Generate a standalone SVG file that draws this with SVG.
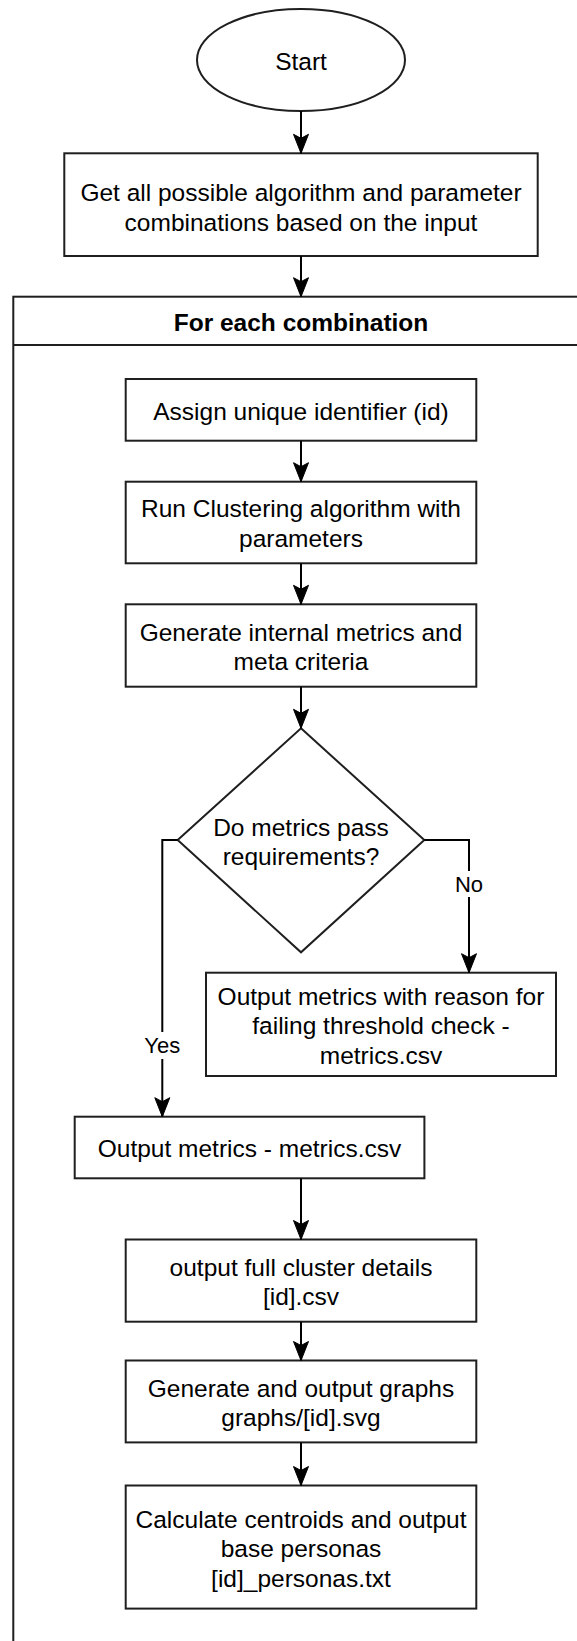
<svg xmlns="http://www.w3.org/2000/svg" width="577" height="1641" viewBox="0 0 577 1641">
  <style>
    .shape { fill: #ffffff; stroke: #1f1f1f; stroke-width: 2; }
    .t { font-family: "Liberation Sans", Arial, Helvetica, sans-serif; font-size: 24.5px; fill: #000; text-anchor: middle; }
    .b { font-weight: bold; }
    .lbl { font-family: "Liberation Sans", Arial, Helvetica, sans-serif; font-size: 22px; fill: #000; text-anchor: middle; }
    .edge { fill: none; stroke: #000; stroke-width: 2; }
  </style>
  <defs>
    <marker id="arrow" markerUnits="userSpaceOnUse" markerWidth="24" markerHeight="20" viewBox="-21 -10 22 20" refX="0" refY="0" orient="auto">
      <path d="M0,0 L-19,-7.5 L-15,0 L-19,7.5 Z" fill="#000" stroke="#000" stroke-width="1"/>
    </marker>
  </defs>
  <rect x="0" y="0" width="577" height="1641" fill="#ffffff"/>

  <g id="loop-frame">
    <rect class="shape" x="13.3" y="296.7" width="620" height="1420"/>
    <line x1="13.3" y1="345" x2="633" y2="345" stroke="#1f1f1f" stroke-width="2"/>
    <text class="t b" x="301" y="330.5">For each combination</text>
  </g>

  <g id="start">
    <ellipse class="shape" cx="301" cy="60" rx="104" ry="51"/>
    <text class="t" x="301" y="70">Start</text>
  </g>

  <g id="get-combinations">
    <rect class="shape" x="64.3" y="153.3" width="473.4" height="102.7"/>
    <text class="t" x="301" y="200.5">Get all possible algorithm and parameter</text>
    <text class="t" x="301" y="231">combinations based on the input</text>
  </g>

  <g id="assign-id">
    <rect class="shape" x="125.7" y="379" width="350.6" height="61.7"/>
    <text class="t" x="301" y="419.5">Assign unique identifier (id)</text>
  </g>

  <g id="run-clustering">
    <rect class="shape" x="125.7" y="481.7" width="350.6" height="81.6"/>
    <text class="t" x="301" y="517">Run Clustering algorithm with</text>
    <text class="t" x="301" y="546.5">parameters</text>
  </g>

  <g id="generate-metrics">
    <rect class="shape" x="125.7" y="604.3" width="350.6" height="82.4"/>
    <text class="t" x="301" y="640.5">Generate internal metrics and</text>
    <text class="t" x="301" y="670">meta criteria</text>
  </g>

  <g id="decision">
    <polygon class="shape" points="301,728.3 424.3,840 301,952.3 177.7,840"/>
    <text class="t" x="301" y="835.5">Do metrics pass</text>
    <text class="t" x="301" y="864.5">requirements?</text>
  </g>

  <g id="output-fail">
    <rect class="shape" x="206" y="972.7" width="350" height="103.3"/>
    <text class="t" x="381" y="1004.5">Output metrics with reason for</text>
    <text class="t" x="381" y="1034">failing threshold check -</text>
    <text class="t" x="381" y="1063.5">metrics.csv</text>
  </g>

  <g id="output-metrics">
    <rect class="shape" x="74.7" y="1116.7" width="349.7" height="61.6"/>
    <text class="t" x="249.5" y="1156.5">Output metrics - metrics.csv</text>
  </g>

  <g id="output-cluster">
    <rect class="shape" x="125.7" y="1239.5" width="350.6" height="82.2"/>
    <text class="t" x="301" y="1275.5">output full cluster details</text>
    <text class="t" x="301" y="1305">[id].csv</text>
  </g>

  <g id="output-graphs">
    <rect class="shape" x="125.7" y="1360.5" width="350.6" height="81.9"/>
    <text class="t" x="301" y="1396.5">Generate and output graphs</text>
    <text class="t" x="301" y="1426">graphs/[id].svg</text>
  </g>

  <g id="output-personas">
    <rect class="shape" x="125.7" y="1485.5" width="350.6" height="123.1"/>
    <text class="t" x="301" y="1527.5">Calculate centroids and output</text>
    <text class="t" x="301" y="1557">base personas</text>
    <text class="t" x="301" y="1586.5">[id]_personas.txt</text>
  </g>

  <g id="connectors">
    <path class="edge" d="M301,111 V153.3" marker-end="url(#arrow)"/>
    <path class="edge" d="M301,256 V296.7" marker-end="url(#arrow)"/>
    <path class="edge" d="M301,440.7 V481.7" marker-end="url(#arrow)"/>
    <path class="edge" d="M301,563.3 V604.3" marker-end="url(#arrow)"/>
    <path class="edge" d="M301,686.7 V728.3" marker-end="url(#arrow)"/>
    <path class="edge" d="M177.7,840 H162.3 V1116.7" marker-end="url(#arrow)"/>
    <path class="edge" d="M424.3,840 H469 V972.7" marker-end="url(#arrow)"/>
    <path class="edge" d="M301,1178.3 V1239.5" marker-end="url(#arrow)"/>
    <path class="edge" d="M301,1321.7 V1360.5" marker-end="url(#arrow)"/>
    <path class="edge" d="M301,1442.4 V1485.5" marker-end="url(#arrow)"/>
    <rect x="144" y="1032" width="37" height="27" fill="#ffffff"/>
    <text class="lbl" x="162.3" y="1053">Yes</text>
    <rect x="454" y="871" width="30" height="26" fill="#ffffff"/>
    <text class="lbl" x="469" y="892">No</text>
  </g>
</svg>
